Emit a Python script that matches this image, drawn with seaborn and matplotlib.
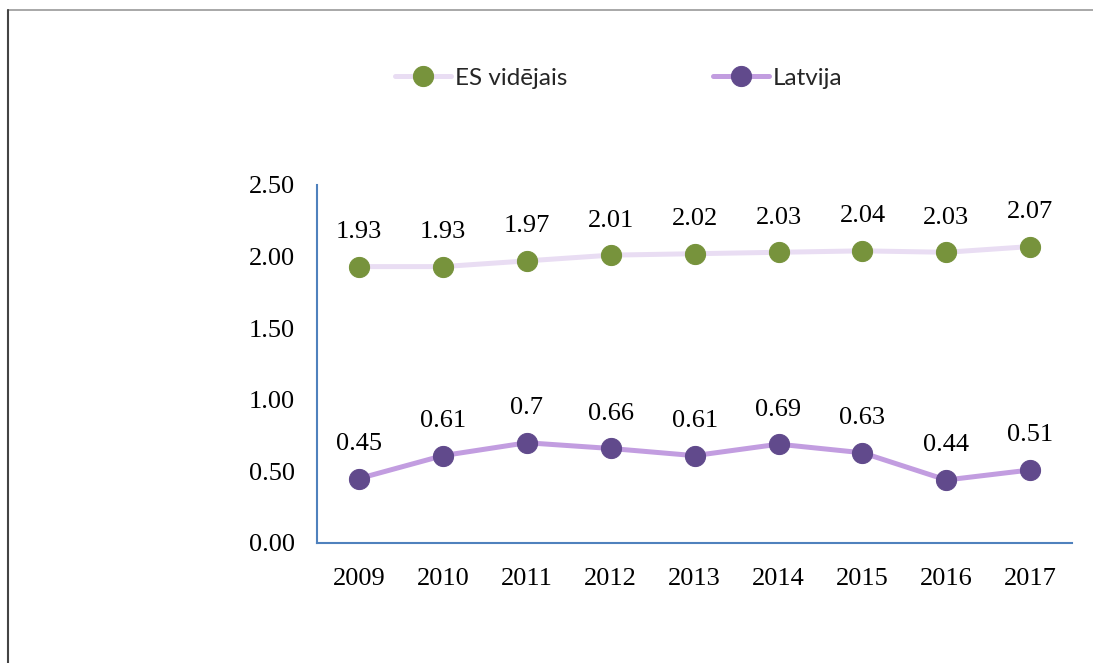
import matplotlib
matplotlib.use("Agg")
import matplotlib.pyplot as plt
from matplotlib.lines import Line2D
import seaborn as sns
import pandas as pd

years = ["2009", "2010", "2011", "2012", "2013", "2014", "2015", "2016", "2017"]
es_avg = [1.93, 1.93, 1.97, 2.01, 2.02, 2.03, 2.04, 2.03, 2.07]
latvia = [0.45, 0.61, 0.70, 0.66, 0.61, 0.69, 0.63, 0.44, 0.51]
es_labels = ["1.93", "1.93", "1.97", "2.01", "2.02", "2.03", "2.04", "2.03", "2.07"]
lv_labels = ["0.45", "0.61", "0.7", "0.66", "0.61", "0.69", "0.63", "0.44", "0.51"]
y_ticks = [0.0, 0.5, 1.0, 1.5, 2.0, 2.5]
y_tick_labels = ["0.00", "0.50", "1.00", "1.50", "2.00", "2.50"]

sns.set_style("white")
plt.rcParams["font.family"] = ["Liberation Serif", "DejaVu Serif"]

fig = plt.figure(figsize=(10.93, 6.63), dpi=100)
ax = fig.add_axes([0.290, 0.181, 0.691, 0.540])

pos = list(range(len(years)))
df = pd.DataFrame({"pos": pos, "es": es_avg, "lv": latvia})

sns.lineplot(data=df, x="pos", y="es", ax=ax, color="#E9DDF3", linewidth=3.6,
             marker="o", markersize=14.5, markerfacecolor="#77933C",
             markeredgecolor="#77933C", label="ES vidējais", legend=False)
sns.lineplot(data=df, x="pos", y="lv", ax=ax, color="#C29DE0", linewidth=3.6,
             marker="o", markersize=14.5, markerfacecolor="#614A8C",
             markeredgecolor="#614A8C", label="Latvija", legend=False)

for p, v, t in zip(pos, es_avg, es_labels):
    ax.annotate(t, (p, v), xytext=(0, 17), textcoords="offset points",
                ha="center", va="bottom", fontsize=19, color="black")
for p, v, t in zip(pos, latvia, lv_labels):
    ax.annotate(t, (p, v), xytext=(0, 17), textcoords="offset points",
                ha="center", va="bottom", fontsize=19, color="black")

ax.set_xlim(-0.5, len(years) - 0.5)
ax.set_ylim(0, 2.5)
ax.set_xticks(pos)
ax.set_xticklabels(years)
ax.set_yticks(y_ticks)
ax.set_yticklabels(y_tick_labels)
ax.set_xlabel("")
ax.set_ylabel("")
ax.tick_params(axis="both", labelsize=19, colors="black")
ax.tick_params(axis="y", length=5.8, width=1.5, color="#4F81BD", direction="out", pad=10)
ax.tick_params(axis="x", length=0, pad=18)
for s in ["top", "right"]:
    ax.spines[s].set_visible(False)
for s in ["left", "bottom"]:
    ax.spines[s].set_color("#4F81BD")
    ax.spines[s].set_linewidth(1.5)
ax.grid(False)

handles, labels = ax.get_legend_handles_labels()
leg = fig.legend(handles, labels, loc="center", bbox_to_anchor=(0.566, 0.882),
                 ncol=2, frameon=False, handlelength=2.3, columnspacing=6.0,
                 handletextpad=0.15,
                 prop={"family": "Lato", "size": 17.5})

fig.add_artist(Line2D([8 / 1093, 1.0], [1 - 10 / 663, 1 - 10 / 663],
                      transform=fig.transFigure, color="#999999", linewidth=1.2))
fig.add_artist(Line2D([8 / 1093, 8 / 1093], [1 - 10 / 663, 0.0],
                      transform=fig.transFigure, color="#444444", linewidth=1.5))

fig.savefig("out.png", dpi=100)
